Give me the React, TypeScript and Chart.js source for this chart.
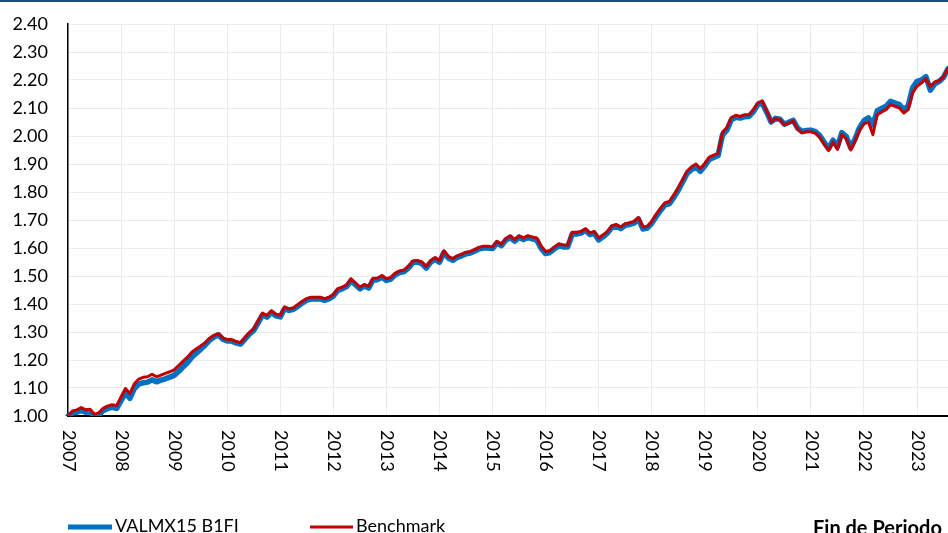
import React, { useEffect, useRef } from 'react';
import { Chart, registerables } from 'chart.js';

Chart.register(...registerables);

const START_YEAR = 2007;

const yearLabels = ['2007', '2008', '2009', '2010', '2011', '2012', '2013', '2014', '2015', '2016', '2017', '2018', '2019', '2020', '2021', '2022', '2023'];

const seriesNames = ['VALMX15 B1FI', 'Benchmark'];

const fundValues = [
  1.000, 1.010, 1.014, 1.020, 1.013, 1.015, 0.998, 1.004, 1.020, 1.027, 1.031, 1.027,
  1.055, 1.083, 1.063, 1.098, 1.114, 1.119, 1.121, 1.129, 1.122, 1.128, 1.133, 1.139,
  1.145, 1.159, 1.175, 1.190, 1.210, 1.224, 1.238, 1.253, 1.270, 1.282, 1.290, 1.274,
  1.268, 1.268, 1.261, 1.257, 1.274, 1.292, 1.306, 1.333, 1.361, 1.353, 1.370, 1.358,
  1.354, 1.384, 1.377, 1.381, 1.392, 1.404, 1.414, 1.418, 1.418, 1.419, 1.413, 1.418,
  1.428, 1.449, 1.454, 1.462, 1.484, 1.469, 1.454, 1.464, 1.457, 1.486, 1.487, 1.496,
  1.484, 1.489, 1.504, 1.512, 1.516, 1.529, 1.548, 1.550, 1.544, 1.528, 1.549, 1.560,
  1.549, 1.584, 1.564, 1.556, 1.566, 1.572, 1.579, 1.582, 1.589, 1.597, 1.600, 1.600,
  1.598, 1.618, 1.608, 1.628, 1.638, 1.624, 1.638, 1.630, 1.638, 1.633, 1.629, 1.598,
  1.580, 1.584, 1.597, 1.608, 1.604, 1.604, 1.649, 1.650, 1.653, 1.663, 1.648, 1.653,
  1.629, 1.640, 1.653, 1.674, 1.678, 1.669, 1.681, 1.684, 1.689, 1.703, 1.668, 1.671,
  1.688, 1.712, 1.734, 1.754, 1.758, 1.781, 1.806, 1.836, 1.866, 1.880, 1.890, 1.874,
  1.893, 1.916, 1.923, 1.930, 2.004, 2.021, 2.058, 2.067, 2.064, 2.069, 2.070, 2.087,
  2.112, 2.117, 2.085, 2.050, 2.063, 2.060, 2.042, 2.049, 2.056, 2.028, 2.016, 2.020,
  2.021, 2.016, 2.002, 1.978, 1.955, 1.985, 1.962, 2.012, 1.998, 1.958, 1.990, 2.030,
  2.055, 2.065, 2.040, 2.090, 2.098, 2.106, 2.124, 2.118, 2.112, 2.094, 2.108, 2.172,
  2.195, 2.200, 2.212, 2.164, 2.186, 2.195, 2.210, 2.240,
];

const benchValues = [
  1.000, 1.018, 1.022, 1.030, 1.022, 1.024, 1.006, 1.012, 1.028, 1.036, 1.040, 1.037,
  1.068, 1.098, 1.080, 1.115, 1.132, 1.138, 1.140, 1.149, 1.140, 1.146, 1.152, 1.158,
  1.165, 1.180, 1.195, 1.210, 1.228, 1.240, 1.250, 1.262, 1.278, 1.288, 1.294, 1.279,
  1.273, 1.273, 1.266, 1.262, 1.280, 1.298, 1.312, 1.340, 1.368, 1.359, 1.376, 1.364,
  1.360, 1.390, 1.383, 1.387, 1.398, 1.410, 1.420, 1.424, 1.424, 1.424, 1.419, 1.424,
  1.434, 1.455, 1.460, 1.468, 1.490, 1.475, 1.460, 1.470, 1.463, 1.492, 1.493, 1.502,
  1.490, 1.495, 1.510, 1.518, 1.522, 1.535, 1.554, 1.556, 1.550, 1.534, 1.555, 1.566,
  1.555, 1.590, 1.570, 1.562, 1.572, 1.578, 1.585, 1.588, 1.595, 1.603, 1.606, 1.606,
  1.604, 1.624, 1.614, 1.634, 1.644, 1.630, 1.644, 1.636, 1.644, 1.639, 1.636, 1.606,
  1.588, 1.591, 1.604, 1.615, 1.611, 1.611, 1.656, 1.656, 1.659, 1.669, 1.654, 1.659,
  1.636, 1.647, 1.659, 1.680, 1.684, 1.675, 1.687, 1.690, 1.695, 1.709, 1.675, 1.678,
  1.695, 1.720, 1.742, 1.762, 1.766, 1.790, 1.815, 1.845, 1.875, 1.890, 1.900, 1.884,
  1.902, 1.925, 1.932, 1.938, 2.014, 2.030, 2.066, 2.074, 2.070, 2.076, 2.076, 2.094,
  2.118, 2.126, 2.090, 2.050, 2.062, 2.058, 2.040, 2.046, 2.053, 2.024, 2.011, 2.015,
  2.015, 2.010, 1.995, 1.970, 1.948, 1.978, 1.952, 2.005, 1.990, 1.950, 1.982, 2.020,
  2.043, 2.050, 2.005, 2.076, 2.086, 2.094, 2.112, 2.106, 2.100, 2.082, 2.094, 2.154,
  2.178, 2.189, 2.205, 2.176, 2.193, 2.198, 2.212, 2.243,
];

const monthLabels = fundValues.map(
  (_, i) => `${START_YEAR + Math.floor(i / 12)}-${String((i % 12) + 1).padStart(2, '0')}`
);

const FONT = 'Lato, "Open Sans", "Liberation Sans", sans-serif';
const BLUE = '#0070C0';
const RED = '#C00000';

const decorPlugin = {
  id: 'decor',
  afterDraw(chart: any) {
    const { ctx } = chart;
    const xs = chart.scales.x;
    const area = chart.chartArea;
    ctx.save();
    // top bar
    ctx.fillStyle = '#1F4E79';
    ctx.fillRect(0, 0, chart.width, 2);
    // rotated year labels
    ctx.fillStyle = '#000';
    ctx.font = `18px ${FONT}`;
    ctx.textAlign = 'left';
    ctx.textBaseline = 'middle';
    yearLabels.forEach((lab, k) => {
      const x = xs.getPixelForValue(k * 12);
      ctx.save();
      ctx.translate(x + 0.5, area.bottom + 14);
      ctx.rotate(Math.PI / 2);
      ctx.fillText(lab, 0, 0);
      ctx.restore();
    });
    // legend
    const ly = 527;
    ctx.lineCap = 'butt';
    ctx.strokeStyle = BLUE;
    ctx.lineWidth = 5;
    ctx.beginPath();
    ctx.moveTo(68, ly);
    ctx.lineTo(112, ly);
    ctx.stroke();
    ctx.strokeStyle = RED;
    ctx.lineWidth = 3;
    ctx.beginPath();
    ctx.moveTo(310, ly);
    ctx.lineTo(353, ly);
    ctx.stroke();
    ctx.textBaseline = 'alphabetic';
    ctx.fillStyle = '#000';
    ctx.fillText(seriesNames[0], 115, 532);
    ctx.fillText(seriesNames[1], 356, 532);
    ctx.font = `bold 20px ${FONT}`;
    ctx.fillText('Fin de Periodo', 813, 535);
    ctx.restore();
  },
};

export default function App() {
  const canvasRef = useRef<HTMLCanvasElement | null>(null);

  useEffect(() => {
    if (!canvasRef.current) return;
    const chart = new Chart(canvasRef.current, {
      type: 'line',
      data: {
        labels: monthLabels,
        datasets: [
          {
            label: seriesNames[0],
            data: fundValues,
            borderColor: BLUE,
            backgroundColor: BLUE,
            borderWidth: 5.5,
            pointRadius: 0,
            tension: 0,
            order: 2,
            borderJoinStyle: 'round',
            borderCapStyle: 'round',
          },
          {
            label: seriesNames[1],
            data: benchValues,
            borderColor: RED,
            backgroundColor: RED,
            borderWidth: 3,
            pointRadius: 0,
            tension: 0,
            order: 1,
            borderJoinStyle: 'round',
            borderCapStyle: 'round',
          },
        ],
      },
      options: {
        animation: false,
        responsive: true,
        maintainAspectRatio: false,
        devicePixelRatio: 1,
        layout: { padding: { top: 24, right: 0, bottom: 0, left: 0 } },
        plugins: {
          legend: { display: false },
          tooltip: { enabled: false },
          title: { display: false },
        },
        scales: {
          x: {
            type: 'category',
            offset: false,
            ticks: { display: false, autoSkip: false },
            grid: {
              drawTicks: false,
              lineWidth: 1,
              color: (c: any) => (c.index % 12 === 0 ? '#EBEBEB' : 'rgba(0,0,0,0)'),
            },
            border: { display: true, color: '#000', width: 2 },
            afterFit: (s: any) => {
              s.height = 117;
              s.paddingLeft = 0;
              s.paddingRight = 0;
            },
          },
          y: {
            min: 1.0,
            max: 2.4,
            ticks: {
              stepSize: 0.1,
              padding: 20,
              color: '#000',
              font: { size: 18, family: FONT },
              callback: (v: any) => Number(v).toFixed(2),
            },
            grid: { drawTicks: false, color: '#EBEBEB', lineWidth: 1 },
            border: { display: true, color: '#000', width: 1.5 },
            afterFit: (s: any) => {
              s.width = 68;
              s.paddingTop = 0;
              s.paddingBottom = 0;
            },
          },
        },
      },
      plugins: [decorPlugin],
    });
    return () => chart.destroy();
  }, []);

  return (
    <div style={{ position: 'fixed', left: 0, top: 0, width: 948, height: 533, background: '#fff' }}>
      <canvas ref={canvasRef} />
    </div>
  );
}
